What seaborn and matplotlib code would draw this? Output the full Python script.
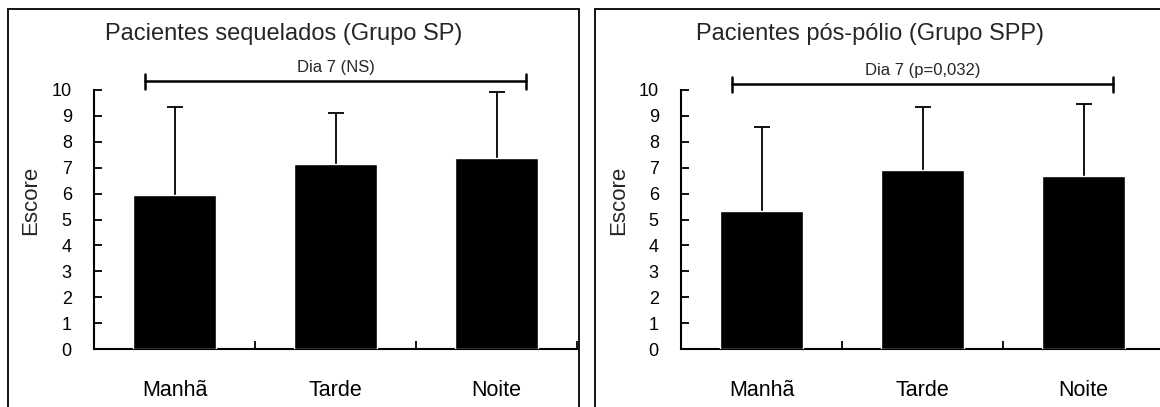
import matplotlib
matplotlib.use("Agg")
import matplotlib.pyplot as plt
import matplotlib.patches as mpatches
import seaborn as sns
import pandas as pd

# Period of day and scores for each patient group
periods = ["Manhã", "Tarde", "Noite"]
sp_mean = [5.93, 7.16, 7.37]
sp_sd = [3.40, 1.94, 2.57]
spp_mean = [5.33, 6.92, 6.69]
spp_sd = [3.24, 2.41, 2.78]

titles = ["Pacientes sequelados (Grupo SP)", "Pacientes pós-pólio (Grupo SPP)"]
brackets = ["Dia 7 (NS)", "Dia 7 (p=0,032)"]
y_ticks = list(range(0, 11))

sns.set_theme(style="white")
plt.rcParams["font.family"] = ["Liberation Sans", "DejaVu Sans"]

W, H = 1160, 407
fig = plt.figure(figsize=(W / 100, H / 100), dpi=100)


def fx(px):
    return px / W


def fy(py):
    return 1 - py / H


panels = [
    dict(mean=sp_mean, sd=sp_sd, ax_x=94, title=titles[0], title_x=284,
         label_x=31, frame_x=8, frame_w=571, br_y=10.35, br_cap=(10.04, 10.62),
         txt_y=10.58, text=brackets[0]),
    dict(mean=spp_mean, sd=spp_sd, ax_x=681, title=titles[1], title_x=870,
         label_x=619, frame_x=595, frame_w=600, br_y=10.23, br_cap=(9.92, 10.50),
         txt_y=10.46, text=brackets[1]),
]

for p in panels:
    # panel frame
    fig.patches.append(mpatches.Rectangle(
        (fx(p["frame_x"]), -0.05), p["frame_w"] / W, fy(9) + 0.05,
        transform=fig.transFigure, fill=False, edgecolor="black",
        linewidth=1.3, zorder=0))

    ax = fig.add_axes([fx(p["ax_x"]), fy(349), 483 / W, 259 / H])
    df = pd.DataFrame({"Período": periods, "Escore": p["mean"]})
    sns.barplot(data=df, x="Período", y="Escore", color="black",
                width=0.515, errorbar=None, saturation=1, ax=ax, zorder=3)
    xs = range(len(periods))
    # standard deviation whiskers; the lower half sits behind the bars
    ax.errorbar(xs, p["mean"], yerr=p["sd"], fmt="none",
                ecolor="black", elinewidth=1.3, capsize=6, capthick=1.3,
                zorder=2)

    ax.set_xlim(-0.5, 2.5)
    ax.set_ylim(0, 10)
    ax.set_yticks(y_ticks)
    ax.set_yticklabels([str(t) for t in y_ticks], fontsize=13)
    ax.set_xticks(list(xs))
    ax.set_xticklabels(periods, fontsize=15.5)
    ax.set_xticks([0.5, 1.5, 2.5], minor=True)
    ax.tick_params(axis="x", which="major", length=0, pad=22, colors="black")
    ax.tick_params(axis="x", which="minor", direction="in", length=6,
                   width=1.3, bottom=True, color="black")
    ax.tick_params(axis="y", direction="in", length=6, width=1.3, left=True,
                   pad=16, colors="black")
    ax.set_xlabel("")
    ax.set_ylabel("")
    for side in ["top", "right"]:
        ax.spines[side].set_visible(False)
    for side in ["left", "bottom"]:
        ax.spines[side].set_color("black")
        ax.spines[side].set_linewidth(1.5)
    ax.grid(False)
    ax.set_facecolor("none")

    # comparison bracket across the three periods
    x0, x1 = -0.183, 2.183
    ax.plot([x0, x1], [p["br_y"], p["br_y"]], color="black", lw=1.8,
            clip_on=False)
    for xb in (x0, x1):
        ax.plot([xb, xb], p["br_cap"], color="black", lw=1.8, clip_on=False)
    ax.text(1.0, p["txt_y"], p["text"], ha="center", va="bottom", fontsize=12,
            clip_on=False)

    fig.text(fx(p["title_x"]), fy(34), p["title"], ha="center", va="center",
             fontsize=17)
    fig.text(fx(p["label_x"]), fy(200), "Escore", ha="center", va="center",
             rotation=90, fontsize=16)

fig.savefig("out.png", dpi=100, facecolor="white")
